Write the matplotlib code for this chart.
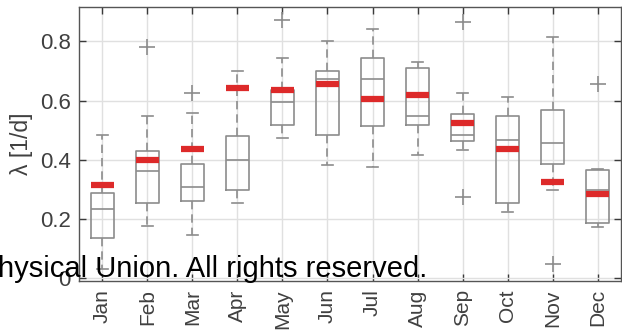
import numpy as np
import matplotlib
matplotlib.use("Agg")
import matplotlib.pyplot as plt
from matplotlib.ticker import FuncFormatter

plt.rcParams['font.family'] = ['Liberation Sans', 'DejaVu Sans']

# data
months = ['Jan', 'Feb', 'Mar', 'Apr', 'May', 'Jun',
          'Jul', 'Aug', 'Sep', 'Oct', 'Nov', 'Dec']
q1 = [0.136, 0.254, 0.261, 0.297, 0.518, 0.484, 0.514, 0.518, 0.462, 0.252, 0.386, 0.187]
med = [0.235, 0.361, 0.306, 0.399, 0.594, 0.673, 0.673, 0.549, 0.484, 0.467, 0.458, 0.297]
q3 = [0.288, 0.428, 0.387, 0.481, 0.637, 0.701, 0.743, 0.710, 0.556, 0.549, 0.568, 0.366]
whislo = [0.031, 0.175, 0.144, 0.252, 0.472, 0.382, 0.376, 0.415, 0.434, 0.224, 0.296, 0.173]
whishi = [0.485, 0.546, 0.559, 0.701, 0.743, 0.800, 0.840, 0.729, 0.624, 0.613, 0.815, 0.370]
fliers = [[], [0.78], [0.626], [], [0.871], [], [], [], [0.864, 0.274], [], [0.048], [0.655]]
red = [0.316, 0.398, 0.435, 0.641, 0.635, 0.657, 0.605, 0.620, 0.523, 0.435, 0.323, 0.283]

gray = '#8c8c8c'
dark = '#3a3a3a'

fig = plt.figure(figsize=(6.22, 3.32), dpi=100)
ax = fig.add_axes([79 / 622, 51 / 332, 542 / 622, 274 / 332])

stats = []
for i in range(len(months)):
    stats.append(dict(med=med[i], q1=q1[i], q3=q3[i],
                      whislo=whislo[i], whishi=whishi[i], fliers=fliers[i]))

pos = np.arange(1, len(months) + 1)
ax.bxp(stats, positions=pos, widths=0.5, showfliers=True,
       boxprops=dict(color=gray, lw=1.2),
       medianprops=dict(color=gray, lw=1.2),
       whiskerprops=dict(color=gray, lw=1.2, ls=(0, (5, 3))),
       capprops=dict(color=gray, lw=1.2),
       capwidths=0.25,
       flierprops=dict(marker='+', markeredgecolor=gray, markersize=11, mew=1.2))

# second estimate shown as red bars
ax.hlines(red, pos - 0.25, pos + 0.25, color='#dd2a2a', lw=4.5, zorder=5)

ax.set_xlim(0.48, 12.52)
ax.set_ylim(-0.01, 0.916)
ax.set_xticks(pos)
ax.set_xticklabels(months, rotation=90)
ax.set_yticks([0, 0.2, 0.4, 0.6, 0.8])
ax.yaxis.set_major_formatter(FuncFormatter(lambda v, p: '0' if v == 0 else f'{v:.1f}'))
ax.grid(True, color='#e0e0e0', lw=1.0)
ax.set_axisbelow(True)
ax.tick_params(direction='in', length=5, width=1.0, colors=dark,
               top=True, right=True, labelcolor='#404040')
ax.tick_params(axis='y', pad=6, labelsize=16)
ax.tick_params(axis='x', pad=6, labelsize=15)
for s in ax.spines.values():
    s.set_color('#555555')
    s.set_linewidth(1.0)
ax.set_ylabel('λ [1/d]', fontsize=16.5, color='#404040', labelpad=5)

fig.text(-2 / 622, 55 / 332, 'hysical Union. All rights reserved.',
         fontsize=21, color='black', ha='left', va='baseline', zorder=20)

fig.savefig('out.png', dpi=100)
